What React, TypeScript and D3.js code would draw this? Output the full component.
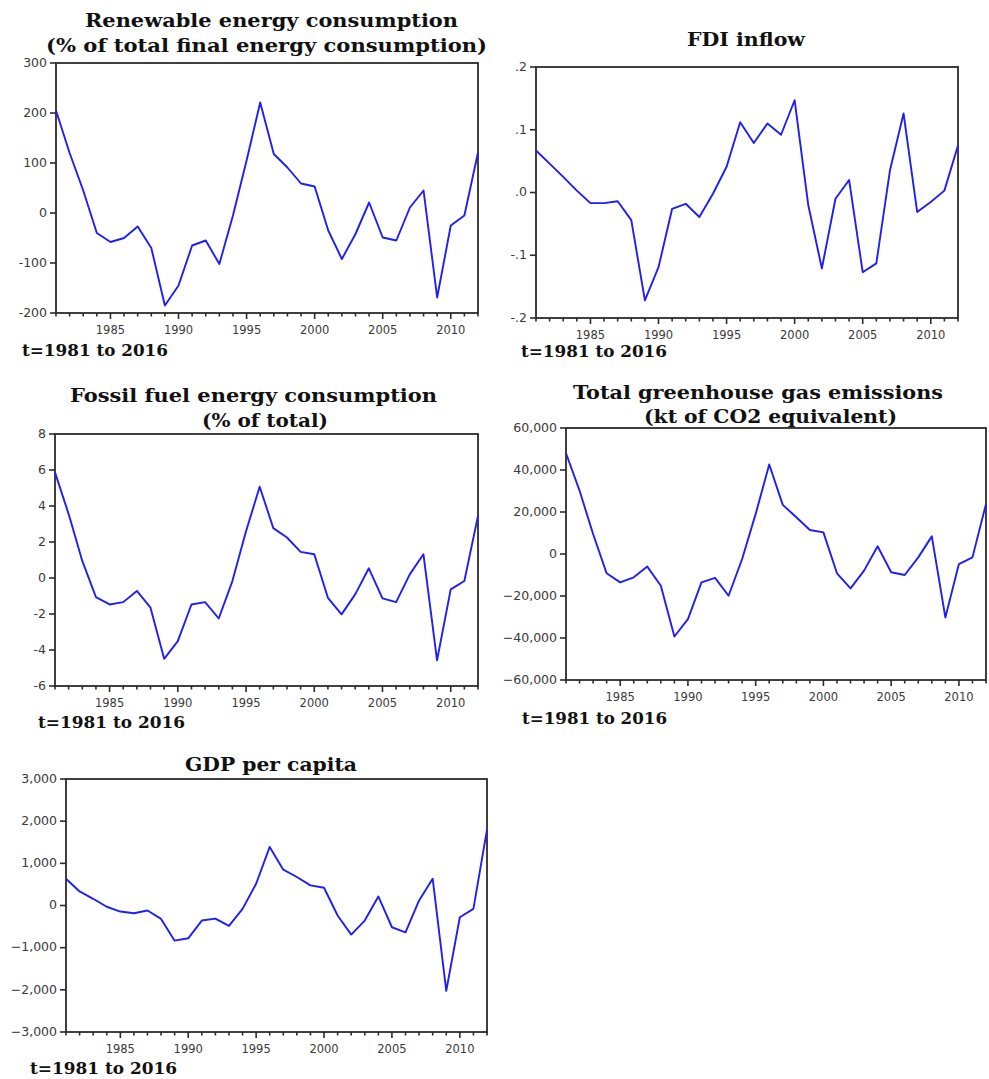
import React from "react";
import * as d3 from "d3";

// Years shared by every panel
const years: number[] = d3.range(1981, 2013);

// Series values, one per year 1981–2012
const renewable: number[] = [
  205, 120, 45, -40, -58, -50, -27, -70, -185, -145, -65, -55, -102, -5, 105, 221,
  118, 91, 59, 53, -35, -92, -42, 21, -49, -55, 11, 45, -169, -25, -5, 121,
];
const fdi: number[] = [
  0.067, 0.046, 0.025, 0.003, -0.017, -0.017, -0.014, -0.044, -0.172, -0.119, -0.026,
  -0.018, -0.039, -0.002, 0.041, 0.112, 0.079, 0.11, 0.092, 0.147, -0.02, -0.121,
  -0.01, 0.02, -0.127, -0.113, 0.035, 0.126, -0.031, -0.015, 0.003, 0.075,
];
const fossil: number[] = [
  5.87, 3.55, 0.95, -1.06, -1.47, -1.34, -0.72, -1.65, -4.49, -3.51, -1.47, -1.34,
  -2.25, -0.17, 2.6, 5.07, 2.77, 2.25, 1.45, 1.32, -1.1, -2.02, -0.91, 0.54, -1.13,
  -1.34, 0.2, 1.32, -4.57, -0.63, -0.17, 3.45,
];
const greenhouse: number[] = [
  48000, 30200, 9500, -9200, -13500, -11100, -6000, -15100, -39300, -31000, -13500,
  -11400, -19900, -2400, 19100, 42600, 23400, 17500, 11400, 10300, -9200, -16400,
  -7900, 3700, -8700, -10000, -1600, 8400, -30200, -4800, -1600, 23800,
];
const gdp: number[] = [
  635, 333, 159, -30, -143, -183, -119, -318, -834, -778, -357, -310, -484, -79, 516,
  1389, 850, 675, 476, 421, -238, -690, -357, 214, -516, -635, 119, 635, -2025, -278,
  -79, 1800,
];

// Axis tick values and their labels
const renewableTicks: number[] = [-200, -100, 0, 100, 200, 300];
const fdiTicks: number[] = [-0.2, -0.1, 0, 0.1, 0.2];
const fdiTickLabels: string[] = ["-.2", "-.1", ".0", ".1", ".2"];
const fossilTicks: number[] = [-6, -4, -2, 0, 2, 4, 6, 8];
const greenhouseTicks: number[] = [-60000, -40000, -20000, 0, 20000, 40000, 60000];
const gdpTicks: number[] = [-3000, -2000, -1000, 0, 1000, 2000, 3000];
const yearLabels: number[] = [1985, 1990, 1995, 2000, 2005, 2010];

const periodLabel = "t=1981 to 2016";

type TitleLine = { text: string; x: number; y: number; w: number };

type PanelProps = {
  values: number[];
  ticks: number[];
  labels: string[];
  frame: { l: number; t: number; r: number; b: number };
  title: TitleLine[];
  period: TitleLine;
};

const LINE = "#1f1ff5";
const AXIS = "#2b2b2b";
const TICK_TEXT = "#3a3a3a";
const SERIF = "'DejaVu Serif', serif";
const SANS = "'DejaVu Sans', sans-serif";

function Panel({ values, ticks, labels, frame, title, period }: PanelProps) {
  const { l, t, r, b } = frame;
  const x = d3.scaleLinear().domain([1981, 2012]).range([l, r]);
  const y = d3
    .scaleLinear()
    .domain([ticks[0], ticks[ticks.length - 1]])
    .range([b, t]);
  const line = d3
    .line<number>()
    .x((_, i) => x(years[i]))
    .y((d) => y(d));

  return (
    <g>
      {title.map((ln, i) => (
        <text
          key={i}
          x={ln.x}
          y={ln.y}
          textLength={ln.w}
          lengthAdjust="spacingAndGlyphs"
          fontFamily={SERIF}
          fontWeight="bold"
          fontSize={18}
          fill="#111"
        >
          {ln.text}
        </text>
      ))}
      <rect
        x={l}
        y={t}
        width={r - l}
        height={b - t}
        fill="none"
        stroke={AXIS}
        strokeWidth={1.8}
      />
      {ticks.map((v, i) => (
        <g key={v}>
          <line x1={l - 6} x2={l} y1={y(v)} y2={y(v)} stroke={AXIS} strokeWidth={1.6} />
          <text
            x={l - 9}
            y={y(v)}
            dy="0.3em"
            textAnchor="end"
            fontFamily={SANS}
            fontSize={12.5}
            fill={TICK_TEXT}
          >
            {labels[i]}
          </text>
        </g>
      ))}
      {years.map((yr) => (
        <line
          key={yr}
          x1={x(yr)}
          x2={x(yr)}
          y1={b}
          y2={b + (yr % 5 === 0 ? 6 : 3.5)}
          stroke={AXIS}
          strokeWidth={1.6}
        />
      ))}
      {yearLabels.map((yr) => (
        <text
          key={yr}
          x={x(yr)}
          y={b + 21}
          textAnchor="middle"
          fontFamily={SANS}
          fontSize={11.5}
          fill={TICK_TEXT}
        >
          {yr}
        </text>
      ))}
      <path d={line(values) ?? ""} fill="none" stroke={LINE} strokeWidth={1.9} strokeLinejoin="round" />
      <text
        x={period.x}
        y={period.y}
        textLength={period.w}
        lengthAdjust="spacingAndGlyphs"
        fontFamily={SERIF}
        fontWeight="bold"
        fontSize={16}
        fill="#111"
      >
        {period.text}
      </text>
    </g>
  );
}

const fmtComma = d3.format(",");

export default function App() {
  return (
    <svg
      width={989}
      height={1079}
      style={{ position: "absolute", left: 0, top: 0, background: "#fff" }}
    >
      <rect width={989} height={1079} fill="#fff" />
      <Panel
        values={renewable}
        ticks={renewableTicks}
        labels={renewableTicks.map(String)}
        frame={{ l: 56, t: 63, r: 478, b: 313 }}
        title={[
          { text: "Renewable energy consumption", x: 85, y: 27, w: 373 },
          { text: "(% of total final energy consumption)", x: 46, y: 52, w: 441 },
        ]}
        period={{ text: periodLabel, x: 22, y: 356, w: 146 }}
      />
      <Panel
        values={fdi}
        ticks={fdiTicks}
        labels={fdiTickLabels}
        frame={{ l: 536, t: 67, r: 958, b: 318 }}
        title={[{ text: "FDI inflow", x: 687, y: 46, w: 118 }]}
        period={{ text: periodLabel, x: 521, y: 357, w: 146 }}
      />
      <Panel
        values={fossil}
        ticks={fossilTicks}
        labels={fossilTicks.map(String)}
        frame={{ l: 55, t: 434, r: 478, b: 686 }}
        title={[
          { text: "Fossil fuel energy consumption", x: 70, y: 402, w: 367 },
          { text: "(% of total)", x: 202, y: 427, w: 126 },
        ]}
        period={{ text: periodLabel, x: 38, y: 728, w: 147 }}
      />
      <Panel
        values={greenhouse}
        ticks={greenhouseTicks}
        labels={greenhouseTicks.map(fmtComma)}
        frame={{ l: 566, t: 428, r: 986, b: 680 }}
        title={[
          { text: "Total greenhouse gas emissions", x: 573, y: 399, w: 370 },
          { text: "(kt of CO2 equivalent)", x: 644, y: 423, w: 253 },
        ]}
        period={{ text: periodLabel, x: 522, y: 724, w: 145 }}
      />
      <Panel
        values={gdp}
        ticks={gdpTicks}
        labels={gdpTicks.map(fmtComma)}
        frame={{ l: 66, t: 779, r: 487, b: 1032 }}
        title={[{ text: "GDP per capita", x: 185, y: 771, w: 172 }]}
        period={{ text: periodLabel, x: 30, y: 1074, w: 147 }}
      />
    </svg>
  );
}
